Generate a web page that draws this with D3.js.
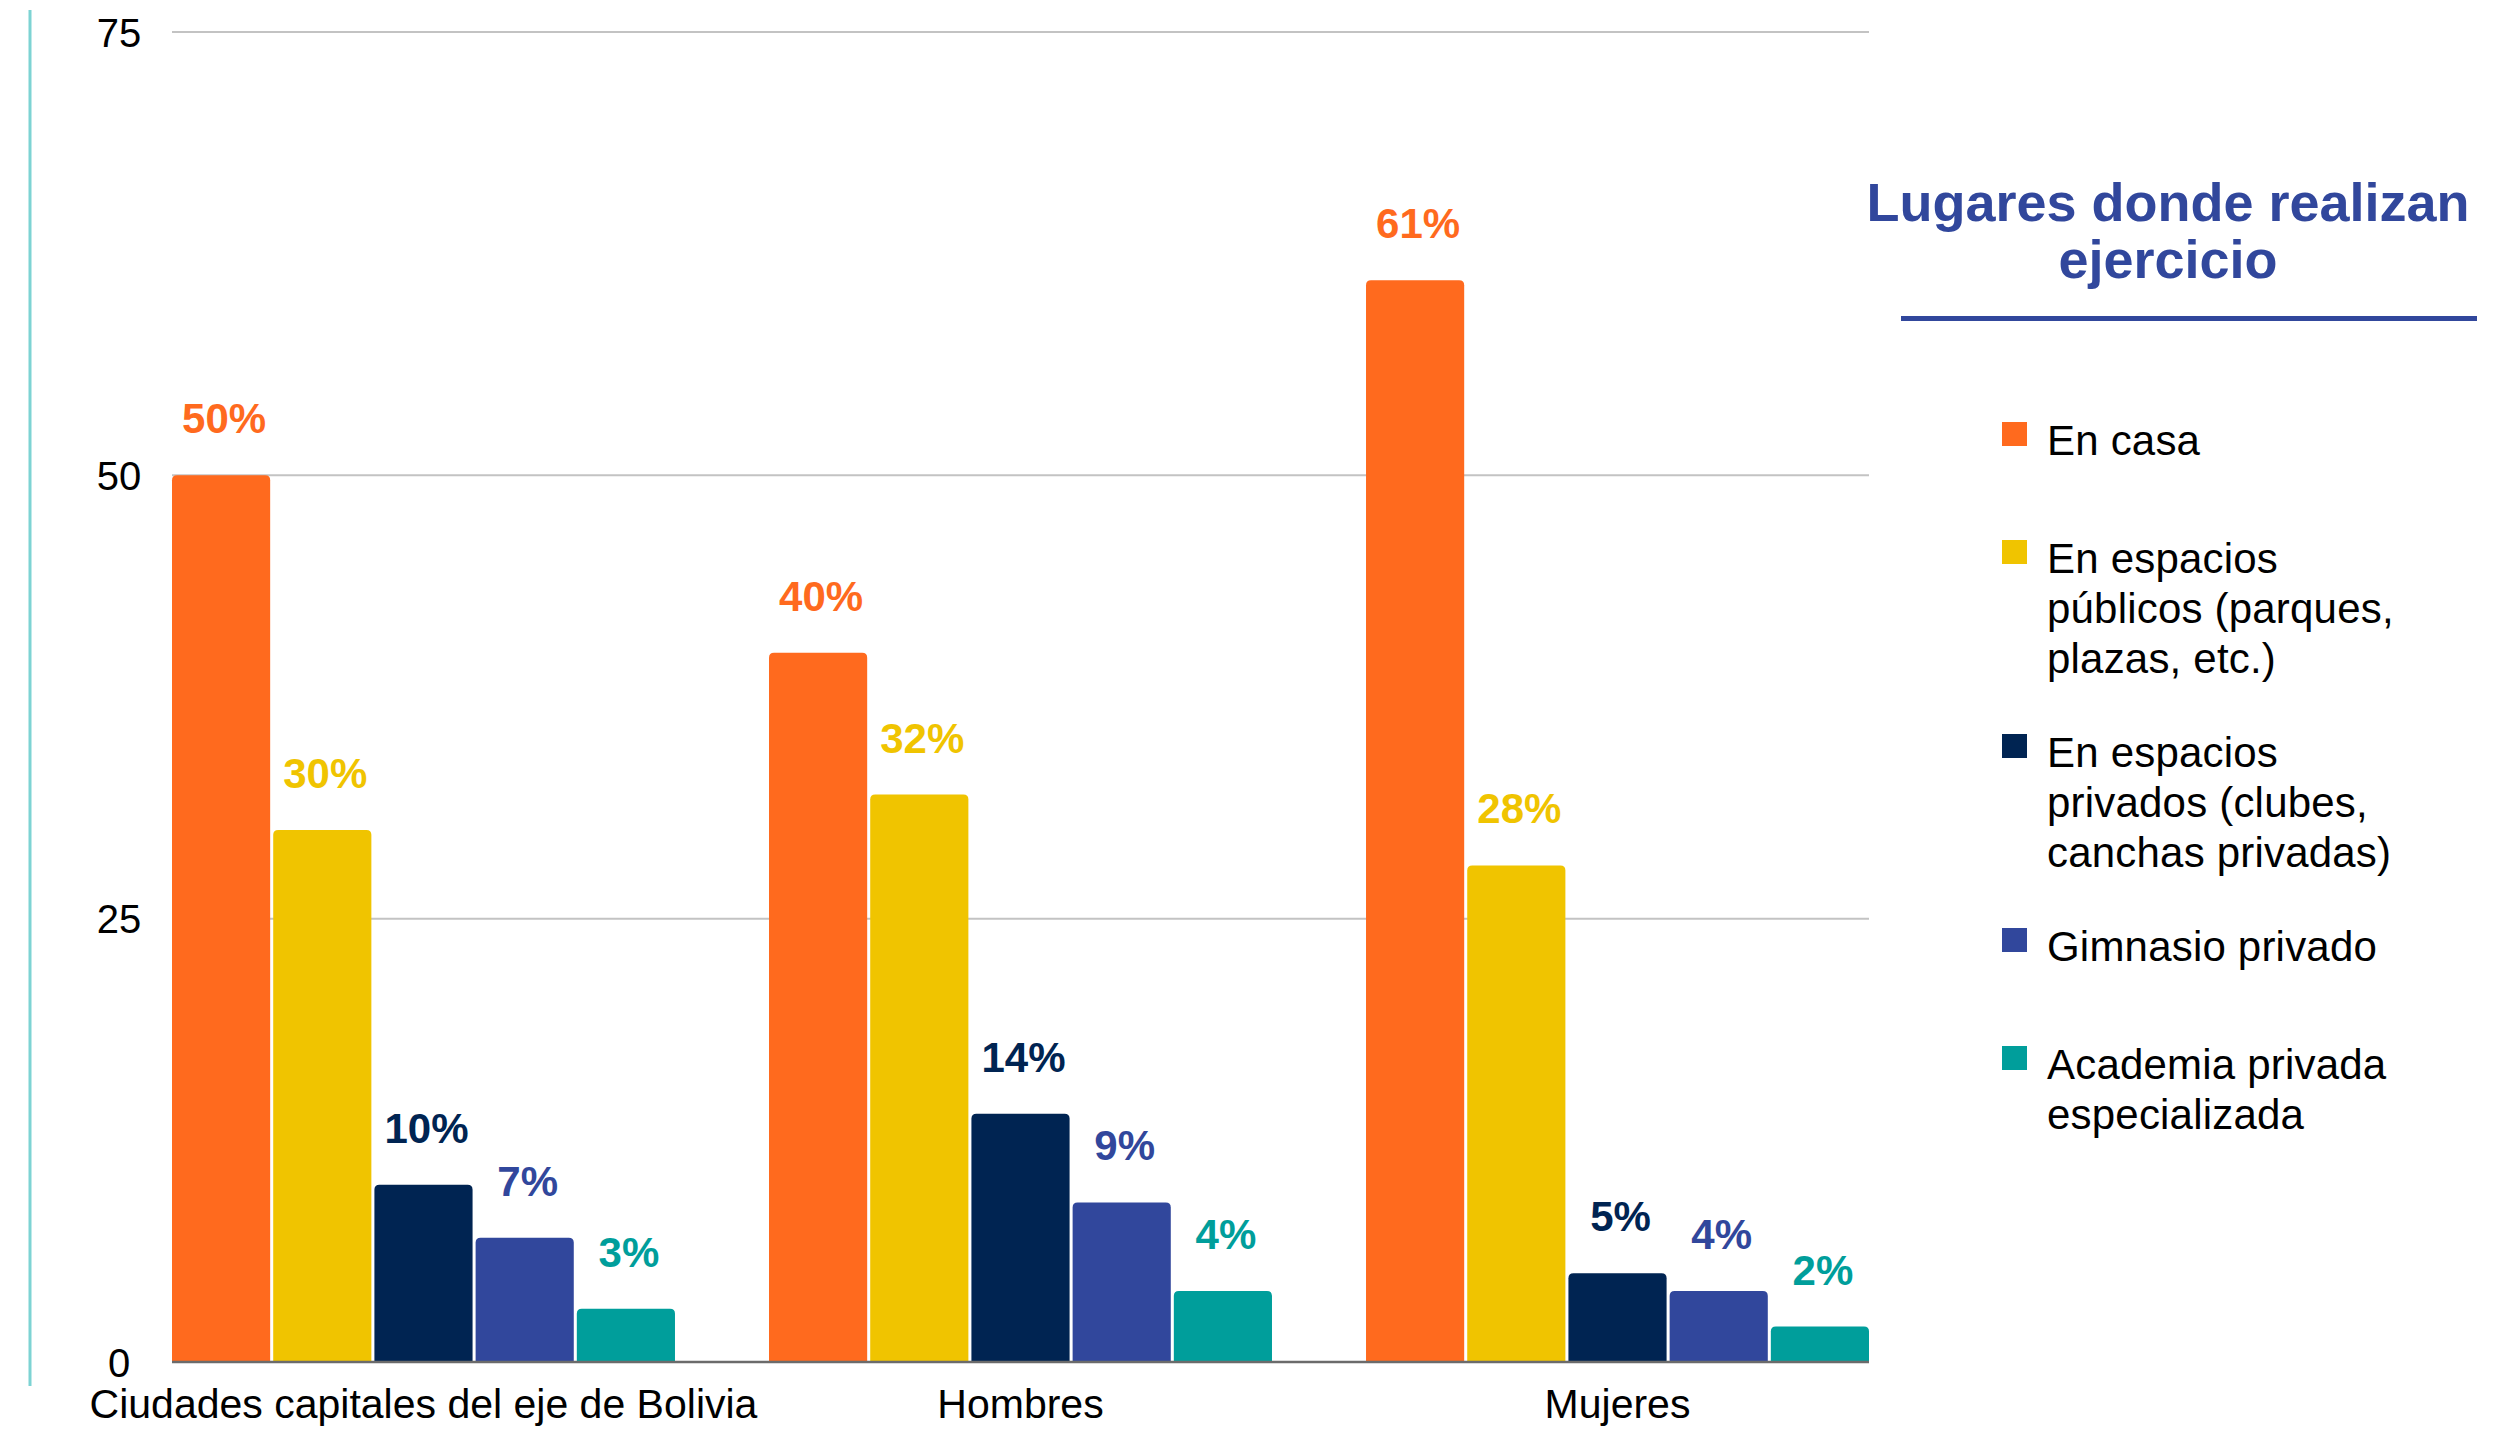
<!DOCTYPE html>
<html lang="es">
<head>
<meta charset="utf-8">
<title>Lugares donde realizan ejercicio</title>
<script src="https://cdn.jsdelivr.net/npm/d3@7"></script>
<style>
  html, body { margin: 0; padding: 0; background: #fff; }
  svg { display: block; font-family: "Liberation Sans", Arial, sans-serif; }
</style>
</head>
<body>
<div id="chart"></div>
<script>
// --- Data ---
const categories = ['Ciudades capitales del eje de Bolivia', 'Hombres', 'Mujeres'];

const seriesNames = [
  'En casa',
  'En espacios públicos (parques, plazas, etc.)',
  'En espacios privados (clubes, canchas privadas)',
  'Gimnasio privado',
  'Academia privada especializada'
];

// legend text as wrapped in the original
const legendLines = [
  ['En casa'],
  ['En espacios', 'públicos (parques,', 'plazas, etc.)'],
  ['En espacios', 'privados (clubes,', 'canchas privadas)'],
  ['Gimnasio privado'],
  ['Academia privada', 'especializada']
];

const enCasa = [50, 40, 61];
const espaciosPublicos = [30, 32, 28];
const espaciosPrivados = [10, 14, 5];
const gimnasioPrivado = [7, 9, 4];
const academiaPrivada = [3, 4, 2];

const yTicks = [0, 25, 50, 75];

const titleLines = ['Lugares donde realizan', 'ejercicio'];

const seriesColors = ['#ff6a1e', '#f0c400', '#002452', '#31479c', '#009e9b'];

// --- Layout ---
const width = 2516;
const height = 1429;
const plot = { left: 172, right: 1869, top: 32, bottom: 1362 };
const titleColor = '#31479c';

const seriesValues = [enCasa, espaciosPublicos, espaciosPrivados, gimnasioPrivado, academiaPrivada];

const rows = categories.map((cat, ci) => ({
  category: cat,
  values: seriesValues.map((vals, si) => ({ series: si, value: vals[ci] }))
}));

const svg = d3.select('#chart')
  .append('svg')
  .attr('width', width)
  .attr('height', height)
  .attr('viewBox', `0 0 ${width} ${height}`);

const x0 = d3.scaleBand()
  .domain(categories)
  .range([plot.left, plot.right])
  .paddingInner(0.1575)
  .paddingOuter(0);

const x1 = d3.scaleBand()
  .domain(d3.range(seriesNames.length))
  .range([0, x0.bandwidth()])
  .paddingInner(0.03)
  .paddingOuter(0);

const y = d3.scaleLinear()
  .domain([0, 75])
  .range([plot.bottom, plot.top]);

// thin teal rule on the far left
svg.append('line')
  .attr('x1', 30).attr('x2', 30)
  .attr('y1', 10).attr('y2', 1386)
  .attr('stroke', '#7dd3d3')
  .attr('stroke-width', 3);

// gridlines (behind bars)
svg.append('g')
  .attr('class', 'grid')
  .selectAll('line')
  .data(yTicks.filter((t) => t > 0))
  .join('line')
  .attr('x1', plot.left)
  .attr('x2', plot.right)
  .attr('y1', (d) => y(d))
  .attr('y2', (d) => y(d))
  .attr('stroke', '#c3c3c3')
  .attr('stroke-width', 2);

// y axis: labels only, no domain line or ticks
const yAxis = d3.axisLeft(y)
  .tickValues(yTicks)
  .tickSize(0)
  .tickPadding(0);

const yAxisG = svg.append('g')
  .attr('class', 'y-axis')
  .attr('transform', 'translate(119,0)')
  .call(yAxis);
yAxisG.select('.domain').remove();
yAxisG.selectAll('text')
  .attr('text-anchor', 'middle')
  .attr('x', 0)
  .attr('dy', '0.35em')
  .attr('fill', '#000')
  .style('font-size', '40px')
  .style('font-family', '"Liberation Sans", Arial, sans-serif');

// bars with rounded top corners
function topRoundedRect(x, yTop, w, h, r) {
  const rr = Math.min(r, h, w / 2);
  return `M${x},${yTop + h}` +
    `V${yTop + rr}` +
    `Q${x},${yTop} ${x + rr},${yTop}` +
    `H${x + w - rr}` +
    `Q${x + w},${yTop} ${x + w},${yTop + rr}` +
    `V${yTop + h}Z`;
}

const groups = svg.append('g')
  .attr('class', 'bars')
  .selectAll('g')
  .data(rows)
  .join('g')
  .attr('transform', (d) => `translate(${x0(d.category)},0)`);

groups.selectAll('path')
  .data((d) => d.values)
  .join('path')
  .attr('d', (d) => topRoundedRect(x1(d.series), y(d.value), x1.bandwidth(), y(0) - y(d.value), 5))
  .attr('fill', (d) => seriesColors[d.series]);

// value labels
groups.selectAll('text')
  .data((d) => d.values)
  .join('text')
  .attr('x', (d) => x1(d.series) + x1.bandwidth() / 2 + 3)
  .attr('y', (d) => y(d.value) - 42)
  .attr('text-anchor', 'middle')
  .attr('fill', (d) => seriesColors[d.series])
  .style('font-size', '42px')
  .style('font-weight', 'bold')
  .text((d) => `${d.value}%`);

// baseline at zero
svg.append('line')
  .attr('x1', plot.left)
  .attr('x2', plot.right)
  .attr('y1', y(0))
  .attr('y2', y(0))
  .attr('stroke', '#6b6b6b')
  .attr('stroke-width', 2.5);

// x axis category labels
const xAxis = d3.axisBottom(x0).tickSize(0).tickPadding(0);
const xAxisG = svg.append('g')
  .attr('class', 'x-axis')
  .attr('transform', 'translate(0,1418)')
  .call(xAxis);
xAxisG.select('.domain').remove();
xAxisG.selectAll('text')
  .attr('y', 0)
  .attr('dy', 0)
  .attr('fill', '#000')
  .style('font-size', '41px')
  .style('font-family', '"Liberation Sans", Arial, sans-serif');

// --- Legend ---
const legend = svg.append('g').attr('class', 'legend');

legend.selectAll('text.title')
  .data(titleLines)
  .join('text')
  .attr('class', 'title')
  .attr('x', 2168)
  .attr('y', (d, i) => 221 + i * 57)
  .attr('text-anchor', 'middle')
  .attr('fill', titleColor)
  .style('font-size', '54px')
  .style('font-weight', 'bold')
  .text((d) => d);

legend.append('rect')
  .attr('x', 1901)
  .attr('y', 316)
  .attr('width', 576)
  .attr('height', 5)
  .attr('fill', titleColor);

// entries: multi-line items sit a bit tighter, as in the original
const lineH = 50;
let baseY = 455;
const entries = legendLines.map((lines, i) => {
  const e = { lines, i, y: baseY };
  baseY += (lines.length - 1) * lineH + 118 - 12 * (lines.length - 1);
  return e;
});

const entryG = legend.selectAll('g.entry')
  .data(entries)
  .join('g')
  .attr('class', 'entry')
  .attr('transform', (d) => `translate(0,${d.y})`);

entryG.append('rect')
  .attr('x', 2002)
  .attr('y', -33)
  .attr('width', 25)
  .attr('height', 24)
  .attr('fill', (d) => seriesColors[d.i]);

entryG.append('text')
  .attr('x', 2047)
  .attr('fill', '#000')
  .style('font-size', '42px')
  .style('letter-spacing', '0.2px')
  .selectAll('tspan')
  .data((d) => d.lines)
  .join('tspan')
  .attr('x', 2047)
  .attr('y', (d, i) => i * lineH)
  .text((d) => d);
</script>
</body>
</html>
